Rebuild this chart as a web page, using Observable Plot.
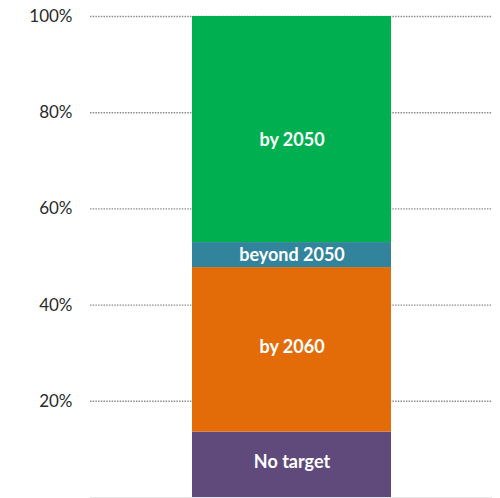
<!DOCTYPE html>
<html>
<head>
<meta charset="utf-8">
<script src="https://cdn.jsdelivr.net/npm/d3@7"></script>
<script src="https://cdn.jsdelivr.net/npm/@observablehq/plot@0.6"></script>
<style>
  html, body { margin: 0; padding: 0; background: #fff; }
  #chart { width: 500px; height: 498px; overflow: hidden; }
</style>
</head>
<body>
<div id="chart"></div>
<script>
const categories = ["No target", "by 2060", "beyond 2050", "by 2050"];
const shares = [13.6, 34.2, 5.2, 47.0];
const colors = ["#604a7b", "#e36c09", "#31849b", "#00b050"];
const yTicks = [20, 40, 60, 80, 100];

const data = categories.map((c, i) => ({group: "all", category: c, value: shares[i]}));

const labelOpts = {x: "group", y: "value", z: "category", text: "category", order: categories,
  fill: "white", fontWeight: "bold", fontSize: 18};

const chart = Plot.plot({
  width: 500,
  height: 498,
  marginLeft: 90,
  marginRight: 8,
  marginTop: 16,
  marginBottom: 1,
  style: {fontFamily: "Lato, 'Open Sans', sans-serif", fontSize: "16px", color: "#2b2b2b", background: "#fff"},
  x: {domain: ["all"], padding: 0.338, axis: null},
  y: {domain: [0, 100], axis: null},
  color: {domain: categories, range: colors},
  marks: [
    Plot.ruleY(yTicks, {stroke: "#8c8c8c", strokeWidth: 1.4, strokeDasharray: "1.5,1.2"}),
    Plot.ruleY([0], {stroke: "#e6e6e6"}),
    Plot.barY(data, Plot.stackY({x: "group", y: "value", z: "category", fill: "category", order: categories})),
    Plot.text(data, Plot.filter(d => d.category === "No target" || d.category === "by 2060",
      Plot.stackY({...labelOpts, dy: -3}))),
    Plot.text(data, Plot.filter(d => d.category === "beyond 2050", Plot.stackY(labelOpts))),
    Plot.text(data, Plot.filter(d => d.category === "by 2050", Plot.stackY({...labelOpts, dy: 11}))),
    Plot.axisY(yTicks, {label: null, tickSize: 0, tickPadding: 18, tickFormat: d => d + "%", fontSize: 17, fill: "#2b2b2b"})
  ]
});
document.getElementById("chart").appendChild(chart);
</script>
</body>
</html>
